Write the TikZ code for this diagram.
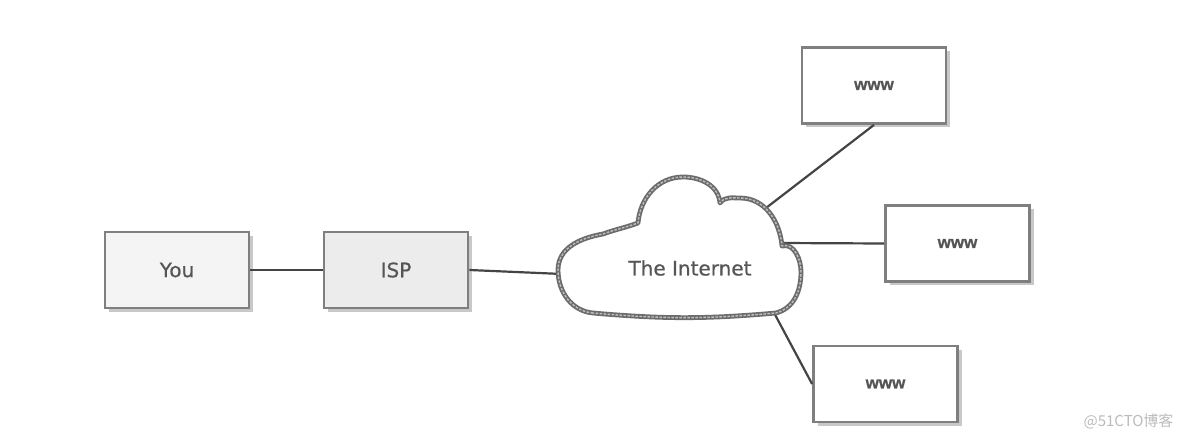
\documentclass[tikz,border=0pt]{standalone}
\usepackage{fontspec}
\setmainfont{DejaVu Sans}[FakeBold=0.6]
\newfontfamily\boldsans{Liberation Sans Bold}[FakeBold=0.8]
\newfontfamily\cjk{Noto Sans CJK SC}
\usetikzlibrary{shadows}
\definecolor{boxline}{HTML}{7F7F7F}
\definecolor{shadowgray}{HTML}{C8C8C8}
\definecolor{txt}{HTML}{555555}
\definecolor{linegray}{HTML}{444444}
\definecolor{youfill}{HTML}{F4F4F4}
\definecolor{ispfill}{HTML}{ECECEC}
\definecolor{marktxt}{HTML}{BBBBBB}
\tikzset{
  netbox/.style={draw=boxline, line width=2.8pt, minimum width=144pt, minimum height=76pt,
    inner sep=0pt, text=txt, font=\fontsize{20}{24}\selectfont,
    drop shadow={shadow xshift=4pt, shadow yshift=-4pt, fill=shadowgray, opacity=1}},
  webbox/.style={netbox, fill=white, font=\boldsans\fontsize{17}{22}\selectfont},
  link/.style={draw=linegray, line width=2.2pt},
  cloudline/.style={draw=boxline!85!black, line width=4.8pt, line join=round, fill=white},
  cloudtex/.style={draw=boxline!50, line width=1.4pt, dash pattern=on 2.5pt off 1.5pt, line join=round}
}
\begin{document}
\begin{tikzpicture}[x=1pt,y=1pt]
\useasboundingbox (0,0) rectangle (1184,442);
\node[netbox, fill=youfill] (you) at (177,172) {You};
\node[netbox, fill=ispfill] (isp) at (396,172) {ISP};
\node[webbox] (w1) at (874,356.5) {\raisebox{-2pt}{www}};
\node[webbox] (w2) at (957.5,198.5) {\raisebox{-2pt}{www}};
\node[webbox] (w3) at (885.5,58) {\raisebox{-2pt}{www}};
\coordinate (cl) at (562,168);
\coordinate (c1) at (766,234);
\coordinate (c2) at (779,199);
\coordinate (c3) at (772,133);
\draw[link] (you.east) -- (isp.west);
\draw[link] (isp.east) -- (cl);
\draw[link] (c1) -- (w1.south);
\draw[link] (c2) -- (w2.west);
\draw[link] (c3) -- (w3.west);
\def\cloudpath{(593,129) to[out=175,in=-90] (558,172) to[out=90,in=190] (603,208)
  to[out=20,in=200] (638,219) to[out=85,in=180] (683,265) to[out=0,in=95] (720,239)
  to[out=55,in=180] (740,244) to[out=0,in=95] (782,196)
  to[out=15,in=90] (801,170) to[out=-90,in=15] (776,129) to[out=185,in=-5] cycle}
\draw[cloudline] \cloudpath;
\draw[cloudtex] \cloudpath;
\node[text=txt, font=\fontsize{20}{24}\selectfont] (net) at (690,174) {The Internet};
\node[text=marktxt, font=\cjk\fontsize{15}{18}\selectfont, anchor=east] (mark) at (1177,21) {@51CTO博客};
\end{tikzpicture}
\end{document}
